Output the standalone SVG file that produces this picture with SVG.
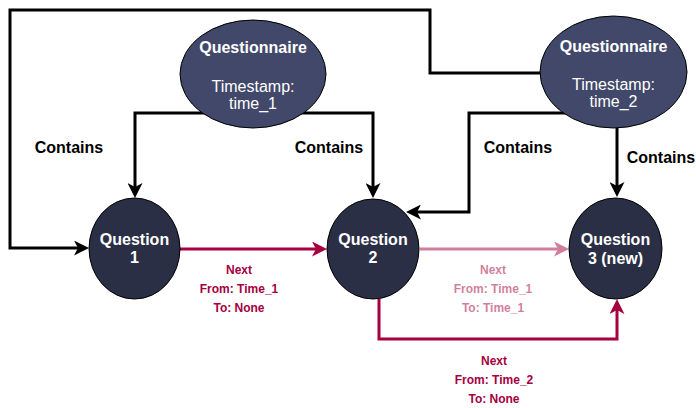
<svg xmlns="http://www.w3.org/2000/svg" width="696" height="408" viewBox="0 0 696 408">
<style>
.t{font-family:"Liberation Sans",Arial,sans-serif;text-anchor:middle}
.b{font-weight:bold}
.w{fill:#ffffff;font-size:16px}
.c{fill:#000000;font-size:16px;font-weight:bold}
.n{fill:#A50040;font-size:12px;font-weight:bold}
.blk{fill:none;stroke:#000000;stroke-width:3}
.pk{fill:none;stroke:#A50040;stroke-width:3}
.qn{fill:#414869;stroke:#000000;stroke-width:1}
.qs{fill:#2B2F45;stroke:#000000;stroke-width:1}
</style>
<defs>
<marker id="ab" viewBox="0 0 15 15" refX="4" refY="7.5" markerWidth="15" markerHeight="15" markerUnits="userSpaceOnUse" orient="auto"><path d="M0,0 L15,7.5 L0,15 L4,7.5 Z" fill="#000000"/></marker>
<marker id="ap" viewBox="0 0 15 15" refX="4" refY="7.5" markerWidth="15" markerHeight="15" markerUnits="userSpaceOnUse" orient="auto"><path d="M0,0 L15,7.5 L0,15 L4,7.5 Z" fill="#A50040"/></marker>
</defs>
<rect width="696" height="408" fill="#ffffff"/>
<g id="connectors">
<path class="blk" d="M253,113 H135 V187" marker-end="url(#ab)"/>
<path class="blk" d="M253,113 H373 V187" marker-end="url(#ab)"/>
<path class="blk" d="M560,73 H430 V10 H10 V248 H78" marker-end="url(#ab)"/>
<path class="blk" d="M580,113 H469 V212 H417" marker-end="url(#ab)"/>
<path class="blk" d="M617,110 V186" marker-end="url(#ab)"/>
<path class="pk" d="M180,249 H316" marker-end="url(#ap)"/>
<g opacity="0.5"><path class="pk" d="M420,249 H558" marker-end="url(#ap)"/></g>
<path class="pk" d="M379,299 V339 H617 V310" marker-end="url(#ap)"/>
<text class="t c" x="69" y="153">Contains</text>
<text class="t c" x="329" y="153">Contains</text>
<text class="t c" x="518" y="153">Contains</text>
<text class="t c" x="661" y="163">Contains</text>
<text class="t n" x="239" y="274">Next</text>
<text class="t n" x="239" y="293">From: Time_1</text>
<text class="t n" x="239" y="312">To: None</text>
<g opacity="0.5">
<text class="t n" x="493" y="274">Next</text>
<text class="t n" x="493" y="293">From: Time_1</text>
<text class="t n" x="493" y="312">To: Time_1</text>
</g>
<text class="t n" x="494" y="365">Next</text>
<text class="t n" x="494" y="384">From: Time_2</text>
<text class="t n" x="494" y="403">To: None</text>
</g>
<g id="questionnaire1">
<ellipse class="qn" cx="253" cy="74" rx="73" ry="54"/>
<text class="t w b" x="253" y="53">Questionnaire</text>
<text class="t w" x="253" y="92">Timestamp:</text>
<text class="t w" x="253" y="109">time_1</text>
</g>
<g id="questionnaire2">
<ellipse class="qn" cx="613.5" cy="72" rx="73.5" ry="56"/>
<text class="t w b" x="613.5" y="52">Questionnaire</text>
<text class="t w" x="613.5" y="90">Timestamp:</text>
<text class="t w" x="613.5" y="107">time_2</text>
</g>
<g id="question1">
<ellipse class="qs" cx="134.5" cy="248.5" rx="45.5" ry="50.5"/>
<text class="t w b" x="134.5" y="245">Question</text>
<text class="t w b" x="134.5" y="263">1</text>
</g>
<g id="question2">
<ellipse class="qs" cx="373" cy="249" rx="46" ry="50"/>
<text class="t w b" x="373" y="245">Question</text>
<text class="t w b" x="373" y="263">2</text>
</g>
<g id="question3">
<ellipse class="qs" cx="615.5" cy="248.5" rx="46.5" ry="50.5"/>
<text class="t w b" x="615.5" y="245">Question</text>
<text class="t w b" x="615.5" y="264">3 (new)</text>
</g>
</svg>
